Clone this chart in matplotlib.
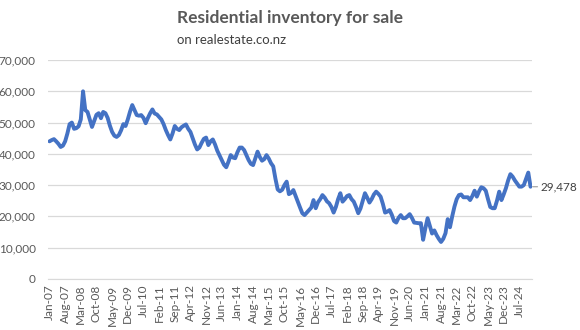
import numpy as np
import pandas as pd
import matplotlib
matplotlib.use("Agg")
import matplotlib.pyplot as plt

plt.rcParams['font.family'] = ['Lato', 'DejaVu Sans']

# monthly listings for sale, Jan-2007 onwards
y2007 = [44000, 44400, 44700, 44000, 43200, 42200, 42600, 44000, 46500, 49500, 50000, 48000]
y2008 = [48200, 48800, 51000, 60000, 54000, 53400, 51000, 48600, 50500, 52500, 53000, 51400]
y2009 = [53400, 53000, 51500, 49000, 47000, 45800, 45400, 46000, 47500, 49500, 48900, 51000]
y2010 = [53500, 55600, 54000, 52400, 52200, 52400, 51500, 49800, 51500, 53000, 54200, 52900]
y2011 = [52600, 51800, 51000, 49500, 47600, 46000, 44600, 46500, 48900, 48000, 47600, 48500]
y2012 = [49000, 49400, 48000, 47000, 45000, 43000, 41400, 42000, 43500, 44800, 45200, 42800]
y2013 = [44000, 44600, 43000, 41000, 39500, 38000, 36500, 35700, 37500, 39600, 38800, 38600]
y2014 = [40500, 42000, 42000, 41200, 39600, 38000, 36800, 36400, 38500, 40700, 39000, 37800]
y2015 = [38300, 39600, 38500, 37000, 36000, 32000, 28600, 28000, 28500, 30000, 31100, 27100]
y2016 = [27500, 28400, 26500, 24500, 22800, 21000, 20400, 21200, 22000, 22800, 25200, 22600]
y2017 = [24500, 25500, 26800, 26000, 24800, 24200, 23000, 21200, 23000, 25500, 27400, 24700]
y2018 = [25500, 26500, 26800, 25500, 24700, 23000, 21000, 22500, 25000, 27400, 26000, 24400]
y2019 = [25500, 27000, 27900, 27200, 26300, 24000, 21200, 21500, 22000, 20500, 18500, 18000]
y2020 = [19500, 20400, 19400, 19400, 20000, 20700, 19500, 18000, 17900, 17800, 17800, 12500]
y2021 = [16200, 19400, 17000, 14500, 15500, 14000, 12800, 11800, 12800, 14600, 19100, 16500]
y2022 = [20000, 23100, 25500, 26800, 27000, 26100, 26100, 26100, 25200, 26500, 28200, 26300]
y2023 = [28000, 29300, 29000, 28200, 25500, 23000, 22600, 22600, 25000, 27900, 25200, 27000]
y2024 = [29000, 31500, 33500, 32700, 31500, 30500, 29500, 29500, 30000, 32000, 34000, 29478]

listings = np.array(y2007 + y2008 + y2009 + y2010 + y2011 + y2012 + y2013 + y2014
                    + y2015 + y2016 + y2017 + y2018 + y2019 + y2020 + y2021 + y2022
                    + y2023 + y2024)
months = pd.date_range('2007-01-01', periods=len(listings), freq='MS')
labels = months.strftime('%b-%y')

fig = plt.figure(figsize=(5.8, 3.3), dpi=100)
ax = fig.add_axes([0.083, 0.155, 0.834, 0.663])

x = np.arange(len(listings))
ax.plot(x, listings, color='#4472C4', lw=2.8, solid_joinstyle='round', solid_capstyle='round', zorder=3)

ax.set_xlim(-0.6, len(listings) - 0.4)
ax.set_ylim(0, 70000)
ax.set_yticks(np.arange(0, 70001, 10000))
ax.yaxis.set_major_formatter(matplotlib.ticker.FuncFormatter(lambda v, p: f'{int(v):,}'))
ax.set_xticks(x[::7])
ax.set_xticklabels(labels[::7], rotation=90)

ax.grid(axis='y', color='#D9D9D9', lw=0.9)
ax.set_axisbelow(True)
for s in ['top', 'right', 'left']:
    ax.spines[s].set_visible(False)
ax.spines['bottom'].set_color('#D9D9D9')
ax.tick_params(axis='both', length=0, labelsize=8.5, labelcolor='#595959')
ax.tick_params(axis='y', pad=9)
ax.tick_params(axis='x', pad=4)

# label for the latest month
last = len(listings) - 1
ax.annotate(f'{listings[-1]:,}', xy=(last, listings[-1]), xytext=(7, 0),
            textcoords='offset points', va='center', ha='left', fontsize=8.5,
            color='#404040', annotation_clip=False,
            arrowprops=dict(arrowstyle='-', color='#A6A6A6', lw=0.9, shrinkA=0, shrinkB=1.5))

fig.text(0.305, 0.945, 'Residential inventory for sale', fontsize=12.5, fontweight='bold',
         color='#595959', va='center', ha='left')
fig.text(0.305, 0.878, 'on realestate.co.nz', fontsize=9.5, color='#404040', va='center', ha='left')

fig.savefig('out.png', dpi=100)
